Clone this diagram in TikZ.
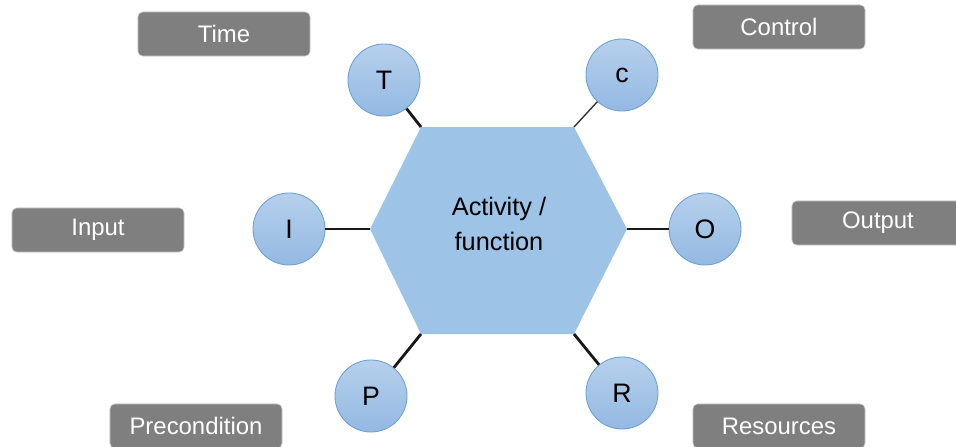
\documentclass[tikz,border=0pt]{standalone}
\usepackage{fontspec}
\setmainfont{Liberation Sans}
\usetikzlibrary{positioning}
\definecolor{HexBlue}{HTML}{9DC3E6}
\definecolor{BallTop}{HTML}{B7D0EC}
\definecolor{BallBottom}{HTML}{93B9E2}
\definecolor{BallEdge}{HTML}{6A9FD8}
\definecolor{TagGray}{HTML}{7F7F7F}
\tikzset{
  ball/.style={circle,draw=BallEdge,line width=0.6pt,top color=BallTop,
    bottom color=BallBottom,minimum size=1.8cm,inner sep=0pt,
    font=\fontsize{19}{22}\selectfont},
  tagbox/.style={draw=gray!45,fill=TagGray,rounded corners=1.2mm,
    minimum width=4.3cm,minimum height=1.1cm,text=white,
    font=\fontsize{17}{20}\selectfont},
  link/.style={line width=2pt,draw=black!90},
}

\begin{document}
\begin{tikzpicture}[x=0.025cm,y=-0.025cm]
\useasboundingbox (0,0) rectangle (956,447);
% corners of the activity hexagon
\coordinate (hl) at (370,229);
\coordinate (htl) at (421,127);
\coordinate (htr) at (574,127);
\coordinate (hr) at (627,229);
\coordinate (hbr) at (574,334);
\coordinate (hbl) at (421,334);
\fill[HexBlue] (hl) -- (htl) -- (htr) -- (hr) -- (hbr) -- (hbl) -- cycle;
\node[align=center,font=\fontsize{18}{25}\selectfont] (act) at (499,224) {Activity /\\function};

\node[ball] (T) at (384,80) {T};
\node[ball] (C) at (622,75) {c};
\node[ball] (I) at (289,229) {I};
\node[ball] (O) at (705,229) {O};
\node[ball] (P) at (371,396) {P};
\node[ball] (R) at (622,393) {R};

\draw[link] (T) -- (htl);
\draw[line width=1pt,draw=black!80] (C) -- (htr);
\draw[link] (I) -- (hl);
\draw[link] (O) -- (hr);
\draw[link] (P) -- (hbl);
\draw[link] (R) -- (hbr);

\node[tagbox] (time) at (224,34) {Time};
\node[tagbox] (control) at (779,27) {Control};
\node[tagbox] (input) at (98,230) {Input};
\node[tagbox] (output) at (878,223) {Output};
\node[tagbox] (precond) at (196,426) {Precondition};
\node[tagbox] (res) at (779,426) {Resources};
\end{tikzpicture}
\end{document}
